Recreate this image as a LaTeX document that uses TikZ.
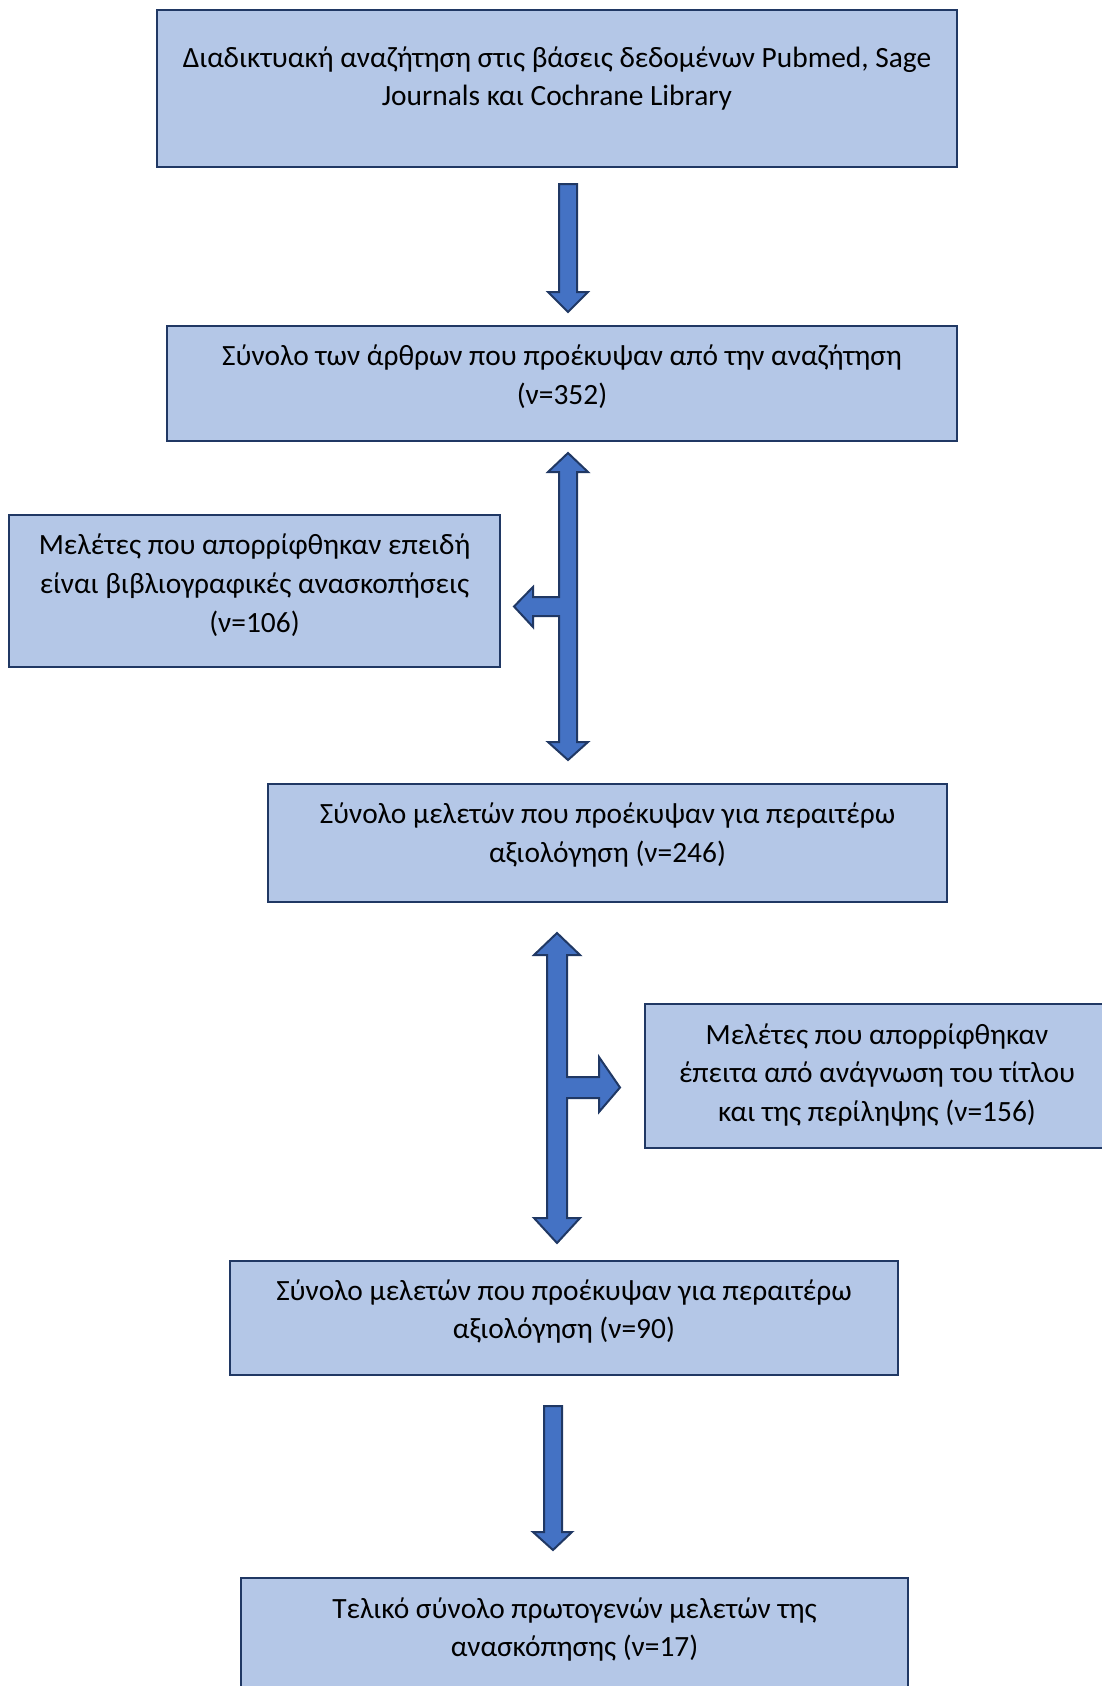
\documentclass[tikz,border=0pt]{standalone}
\usepackage{fontspec}
\setmainfont{Carlito}
\usetikzlibrary{positioning}
\definecolor{boxfill}{HTML}{B4C7E7}
\definecolor{boxline}{HTML}{203864}
\definecolor{arrowfill}{HTML}{4472C4}

\begin{document}
\begin{tikzpicture}[x=1pt, y=-1pt, box/.style={draw=boxline, fill=boxfill, line width=2.2pt, inner sep=0pt}, txt/.style={align=center, inner sep=0pt, font=\fontsize{29.4}{38.8}\selectfont}, blockarrow/.style={draw=boxline, fill=arrowfill, line width=2pt, line join=miter}]
    \useasboundingbox (0,0) rectangle (1102,1686);
    \clip (0,0) rectangle (1102,1686);

    \node(search)[box, minimum width=800pt, minimum height=157pt] at (557,88.5) {};
    \node(search-txt)[txt] at ([yshift=10pt]search.center)
        { Διαδικτυακή αναζήτηση στις βάσεις δεδομένων Pubmed, Sage \\ Journals και Cochrane Library };
    \node(total)[box, minimum width=790pt, minimum height=115pt] at (562,383.5) {};
    \node(total-txt)[txt] at ([yshift=6.5pt]total.center)
        { Σύνολο των άρθρων που προέκυψαν από την αναζήτηση \\ (ν=352) };
    \node(reviews)[box, minimum width=491pt, minimum height=152pt] at (254.5,591) {};
    \node(reviews-txt)[txt] at ([yshift=6pt]reviews.center)
        { Μελέτες που απορρίφθηκαν επειδή \\ είναι βιβλιογραφικές ανασκοπήσεις \\ (ν=106) };
    \node(screened)[box, minimum width=679pt, minimum height=118pt] at (607.5,843) {};
    \node(screened-txt)[txt] at ([yshift=8pt]screened.center)
        { Σύνολο μελετών που προέκυψαν για περαιτέρω \\ αξιολόγηση (ν=246) };
    \node(excluded)[box, minimum width=464pt, minimum height=144pt] at (877,1076) {};
    \node(excluded-txt)[txt] at ([yshift=1pt]excluded.center)
        { Μελέτες που απορρίφθηκαν \\ έπειτα από ανάγνωση του τίτλου \\ και της περίληψης (ν=156) };
    \node(eligible)[box, minimum width=668pt, minimum height=114pt] at (564,1318) {};
    \node(eligible-txt)[txt] at ([yshift=6.5pt]eligible.center)
        { Σύνολο μελετών που προέκυψαν για περαιτέρω \\ αξιολόγηση (ν=90) };
    \node(final)[box, minimum width=667pt, minimum height=116pt] at (574.5,1636) {};
    \node(final-txt)[txt] at ([yshift=6.5pt]final.center)
        { Τελικό σύνολο πρωτογενών μελετών της \\ ανασκόπησης (ν=17) };

    % block arrows
    \draw[blockarrow] (559,184) -- (577,184) -- (577,292) -- (588,292) -- (568,312)
        -- (548,292) -- (559,292) -- cycle;
    \draw[blockarrow] (568,453) -- (588,472) -- (577,472) -- (577,742) -- (588,742)
        -- (568,760) -- (548,742) -- (559,742) -- (559,616) -- (533,616) -- (533,627)
        -- (514,606.5) -- (533,587) -- (533,597) -- (559,597) -- (559,472) -- (548,472) -- cycle;
    \draw[blockarrow] (557,933) -- (580,955) -- (567,955) -- (567,1077) -- (599,1077)
        -- (599,1057) -- (620,1087.5) -- (599,1112) -- (599,1098) -- (567,1098) -- (567,1218)
        -- (580,1218) -- (557,1243) -- (534,1218) -- (547,1218) -- (547,955) -- (534,955) -- cycle;
    \draw[blockarrow] (544,1406) -- (562,1406) -- (562,1532) -- (572,1532) -- (553,1550)
        -- (533,1532) -- (544,1532) -- cycle;
\end{tikzpicture}
\end{document}
